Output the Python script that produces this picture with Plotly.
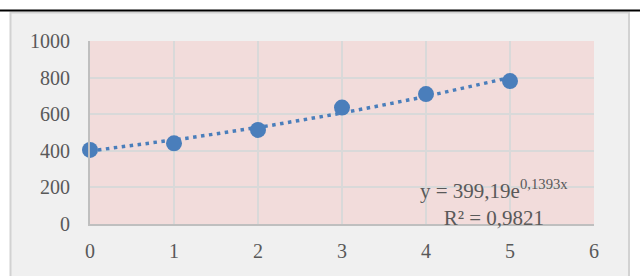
import numpy as np
import plotly.graph_objects as go

# Data
x_vals = [0, 1, 2, 3, 4, 5]
y_vals = [405, 441, 514, 636, 710, 781]
x_ticks = [0, 1, 2, 3, 4, 5, 6]
y_ticks = [0, 200, 400, 600, 800, 1000]
trend_a = 399.19
trend_b = 0.1393
eq_text = "y = 399,19e<sup>0,1393x</sup><br>R² = 0,9821"

blue = "#4a7ebb"
font_family = "Liberation Serif"

trend_x = np.linspace(min(x_vals), max(x_vals), 200)
trend_y = trend_a * np.exp(trend_b * trend_x)

# plot area in pixels
W, H = 640, 276
L, R, T, B = 90, 46, 41, 52
pw, ph = W - L - R, H - T - B

def px_x(p):
    return (p - L) / pw

def px_y(p):
    return (H - B - p) / ph

fig = go.Figure()
fig.add_trace(go.Scatter(
    x=trend_x, y=trend_y, mode="lines",
    line=dict(color=blue, width=3.5, dash="3.5px,4.5px"),
    hoverinfo="skip", showlegend=False, cliponaxis=False))
fig.add_trace(go.Scatter(
    x=x_vals, y=y_vals, mode="markers",
    marker=dict(color=blue, size=16),
    showlegend=False, cliponaxis=False))

shapes = [
    dict(type="rect", xref="paper", yref="paper",
         x0=px_x(10.5), x1=px_x(629), y0=px_y(290), y1=px_y(12.5),
         fillcolor="#f0f0f0", line=dict(color="#d2d2d2", width=2), layer="below"),
    dict(type="rect", xref="paper", yref="paper",
         x0=0, x1=1, y0=0, y1=1,
         fillcolor="#f2dcdb", line=dict(width=0), layer="below"),
    dict(type="line", xref="paper", yref="paper",
         x0=px_x(0), x1=px_x(640), y0=px_y(10.5), y1=px_y(10.5),
         line=dict(color="black", width=2), layer="above"),
]

fig.update_layout(
    width=W, height=H,
    margin=dict(l=L, r=R, t=T, b=B, pad=0),
    paper_bgcolor="white",
    plot_bgcolor="rgba(0,0,0,0)",
    font=dict(family=font_family, size=20, color="#595959"),
    shapes=shapes,
    xaxis=dict(range=[0, 6], tickvals=x_ticks, showgrid=True,
               gridcolor="#d9d9d9", gridwidth=2, zeroline=False,
               showline=True, linecolor="#bfbfbf", linewidth=2,
               ticks="", ticklabelstandoff=8,
               tickfont=dict(family=font_family, size=20, color="#595959")),
    yaxis=dict(range=[0, 1000], tickvals=y_ticks, showgrid=True,
               gridcolor="#d9d9d9", gridwidth=2, zeroline=False,
               showline=True, linecolor="#bfbfbf", linewidth=2,
               ticks="", ticklabelstandoff=14,
               tickfont=dict(family=font_family, size=20, color="#595959")),
    annotations=[dict(
        x=(494 - L) / pw * 6, y=(H - B - 203) / ph * 1000,
        xref="x", yref="y", text=eq_text, showarrow=False,
        align="center", font=dict(family=font_family, size=21, color="#595959"))],
)

fig.write_html("out.html",
               config={"displayModeBar": False},
               post_script="document.body.style.margin='0';document.body.style.overflow='hidden';")
